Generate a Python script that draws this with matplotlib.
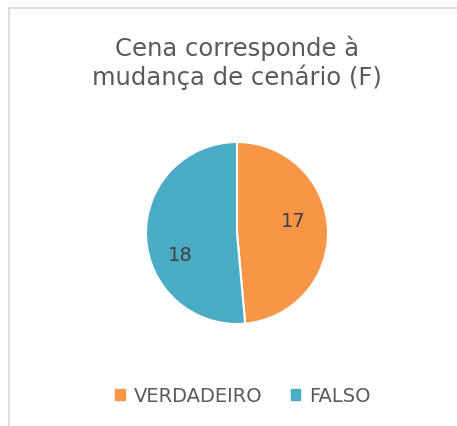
import numpy as np
import matplotlib.pyplot as plt
from matplotlib.patches import Rectangle
from matplotlib.lines import Line2D

# --- Data ---
categories = ["VERDADEIRO", "FALSO"]
values = [17, 18]
colors = ["#F79646", "#4BACC6"]
title = "Cena corresponde à\nmudança de cenário (F)"

# label placement (angle offset from slice middle in deg, radius fraction)
label_angle_shift = [10, 18]
label_radius = [0.63, 0.67]

FONT = "DejaVu Sans"
TEXT_COLOR = "#595959"

fig = plt.figure(figsize=(4.57, 4.27), dpi=100)

# chart-area border (only top/left visible in crop)
fig.add_artist(Line2D([8.5 / 457, 1.0], [1 - 8.5 / 427] * 2, color="#D9D9D9", lw=1.2))
fig.add_artist(Line2D([8.5 / 457] * 2, [0.0, 1 - 8.5 / 427], color="#D9D9D9", lw=1.2))

fig.text(237 / 457, 1 - 62.5 / 427, title, ha="center", va="center",
         fontsize=17.5, color=TEXT_COLOR, family=FONT, linespacing=1.17)

# pie axes: center (237, 234), radius ~91 px
r = 91
ax = fig.add_axes([(237 - r) / 457, 1 - (234 + r) / 427, 2 * r / 457, 2 * r / 427])
wedges, _ = ax.pie(values, colors=colors, startangle=90, counterclock=False,
                   wedgeprops=dict(edgecolor="white", linewidth=1.5))
ax.set_aspect("equal")
ax.set_xlim(-1, 1)
ax.set_ylim(-1, 1)

# value labels
total = sum(values)
start = 90
for v, sh, rr in zip(values, label_angle_shift, label_radius):
    mid = np.deg2rad(start - 360 * v / total / 2 + sh)
    ax.text(rr * np.cos(mid), rr * np.sin(mid), str(v),
            ha="center", va="center", fontsize=14, color="#404040", family=FONT)
    start -= 360 * v / total

# legend
handles = [Rectangle((0, 0), 1, 1, color=c) for c in colors]
fig.legend(handles, categories, loc="center", bbox_to_anchor=(243 / 457, 1 - 397 / 427),
           ncol=2, frameon=False, handlelength=0.5, handleheight=0.5,
           handletextpad=0.45, columnspacing=1.45,
           prop=dict(family=FONT, size=14), labelcolor=TEXT_COLOR)

fig.savefig("out.png", dpi=100, facecolor="white")
